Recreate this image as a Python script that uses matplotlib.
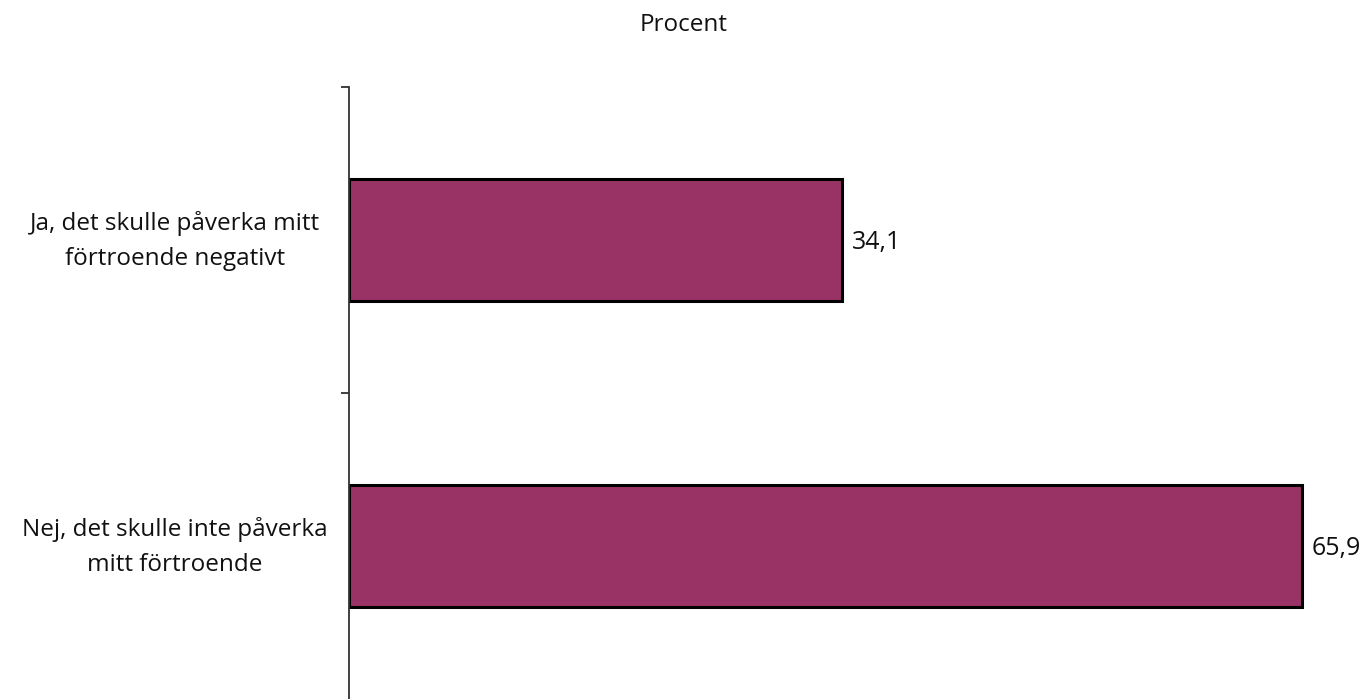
import matplotlib
matplotlib.use("Agg")
import matplotlib.pyplot as plt
from matplotlib.ticker import FixedLocator

categories = ["Ja, det skulle påverka mitt\nförtroende negativt",
              "Nej, det skulle inte påverka\nmitt förtroende"]
values = [34.1, 65.9]
value_labels = ["34,1", "65,9"]
title = "Procent"

plt.rcParams['font.family'] = ['Open Sans', 'DejaVu Sans']

W, H = 1366, 699
fig = plt.figure(figsize=(W / 100, H / 100), dpi=100)
left_px, top_px = 349, 87
xmax = 70
px_per_unit = 14.46
width_px = xmax * px_per_unit
ax = fig.add_axes([left_px / W, 0, width_px / W, (H - top_px) / H])

y = list(range(len(categories)))
ax.barh(y, values, height=0.4, color="#993366", edgecolor="black", linewidth=2.2)
ax.set_xlim(0, xmax)
ax.set_ylim(len(categories) - 0.5, -0.5)

for yi, v, lab in zip(y, values, value_labels):
    ax.annotate(lab, (v, yi), xytext=(10, -2), textcoords="offset pixels",
                ha="left", va="center", fontsize=18, color="#111111")

for yi, cat in zip(y, categories):
    ax.annotate(cat, (0, yi), xytext=(-174, -1), textcoords="offset pixels",
                ha="center", va="center", multialignment="center",
                fontsize=17.5, color="#111111", linespacing=1.6,
                annotation_clip=False)

for s in ["top", "right", "bottom"]:
    ax.spines[s].set_visible(False)
ax.spines["left"].set_linewidth(1.3)
ax.spines["left"].set_color("#333333")
ax.xaxis.set_visible(False)

ax.set_yticks(y)
ax.set_yticklabels([])
ax.tick_params(axis="y", which="major", length=0)
ax.yaxis.set_minor_locator(FixedLocator([-0.5, 0.5]))
ax.tick_params(axis="y", which="minor", length=6, width=1.3, color="#333333", direction="out")

fig.text(684 / W, 1 - 25 / H, title, ha="center", va="center", fontsize=17.5, color="#111111")

fig.savefig("out.png", dpi=100)
